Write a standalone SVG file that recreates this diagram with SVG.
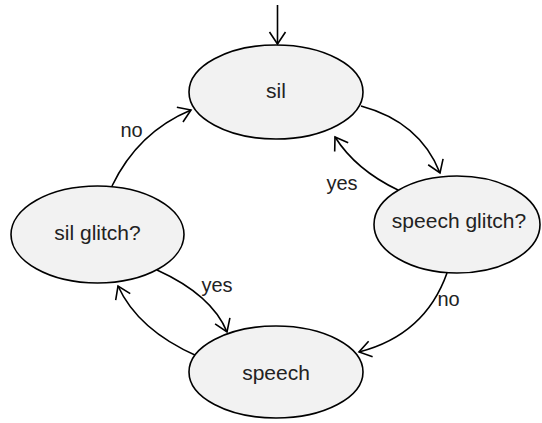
<svg xmlns="http://www.w3.org/2000/svg" width="542" height="423" viewBox="0 0 542 423">
<style>
.node ellipse{fill:#f2f2f2;stroke:#000;stroke-width:1.6}
.node text{font-family:"Liberation Sans",Arial,sans-serif;font-size:21px;fill:#222;text-anchor:middle}
.lbl{font-family:"Liberation Sans",Arial,sans-serif;font-size:20px;fill:#222;text-anchor:middle}
.edge{fill:none;stroke:#000;stroke-width:1.6;marker-end:url(#arr)}
</style>
<defs>
<marker id="arr" markerUnits="userSpaceOnUse" markerWidth="20" markerHeight="20" viewBox="-14 -10 16 20" refX="0" refY="0" orient="auto">
<path d="M-12,-8 L0,0 L-12,8" fill="none" stroke="#000" stroke-width="1.6"/>
</marker>
</defs>
<g id="connectors">
<path class="edge" d="M277.5,5 L277.5,44"/>
<path class="edge" d="M112,186 Q138,132 191,110"/>
<path class="edge" d="M361,106 Q420,122 440,173"/>
<path class="edge" d="M398,190 Q356,170 335,137"/>
<path class="edge" d="M447,273 Q425,335 359,352"/>
<path class="edge" d="M157,270 Q212,295 227,332"/>
<path class="edge" d="M197,356 Q138,330 118,286"/>
<text class="lbl" x="131.5" y="137">no</text>
<text class="lbl" x="342" y="190">yes</text>
<text class="lbl" x="448.5" y="306">no</text>
<text class="lbl" x="217" y="292">yes</text>
</g>
<g id="sil" class="node">
<ellipse cx="276" cy="92" rx="87" ry="47"/>
<text x="276" y="98">sil</text>
</g>
<g id="sil_glitch" class="node">
<ellipse cx="97.5" cy="234.5" rx="86.5" ry="48.5"/>
<text x="97.5" y="240">sil glitch?</text>
</g>
<g id="speech_glitch" class="node">
<ellipse cx="457" cy="224.5" rx="83" ry="48.5"/>
<text x="459" y="228">speech glitch?</text>
</g>
<g id="speech" class="node">
<ellipse cx="276" cy="372" rx="87" ry="46"/>
<text x="276" y="380">speech</text>
</g>
</svg>
